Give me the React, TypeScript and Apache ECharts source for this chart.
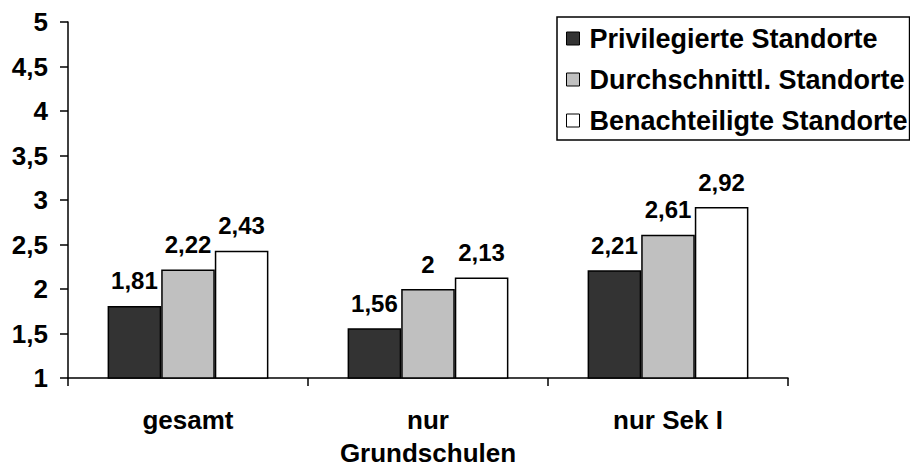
import React, { useEffect, useRef } from "react";
import * as echarts from "echarts";

const categories = ["gesamt", "nur\nGrundschulen", "nur Sek I"];
const seriesNames = ["Privilegierte Standorte", "Durchschnittl. Standorte", "Benachteiligte Standorte"];
const privilegiert = [1.81, 1.56, 2.21];
const durchschnitt = [2.22, 2.0, 2.61];
const benachteiligt = [2.43, 2.13, 2.92];
const seriesColors = ["#333333", "#c0c0c0", "#ffffff"];
const yMin = 1;
const yMax = 5;
const yInterval = 0.5;

const FONT = "Liberation Sans, Arial, sans-serif";
const fmt = (v: number) => String(v).replace(".", ",");

export default function App() {
  const ref = useRef<HTMLDivElement>(null);
  useEffect(() => {
    if (!ref.current) return;
    const chart = echarts.init(ref.current, undefined, { renderer: "svg" });
    const values = [privilegiert, durchschnitt, benachteiligt];
    chart.setOption({
      animation: false,
      backgroundColor: "#ffffff",
      grid: { left: 68, right: 122, top: 22, bottom: 90, containLabel: false },
      legend: {
        orient: "vertical",
        left: 557,
        top: 17,
        data: seriesNames,
        icon: "rect",
        itemWidth: 13,
        itemHeight: 13,
        itemGap: 14,
        padding: [8, 2, 6, 9],
        borderColor: "#000000",
        borderWidth: 1.5,
        backgroundColor: "#ffffff",
        textStyle: {
          fontFamily: FONT,
          fontWeight: "bold",
          fontSize: 27,
          color: "#000",
          lineHeight: 26,
          padding: [0, 0, 0, 5],
        },
        itemStyle: { borderColor: "#000", borderWidth: 1 },
      },
      xAxis: {
        type: "category",
        data: categories,
        axisLine: { lineStyle: { color: "#000", width: 1.5 } },
        axisTick: { show: true, length: 8, lineStyle: { color: "#000", width: 1.5 } },
        axisLabel: {
          margin: 25,
          fontFamily: FONT,
          fontWeight: "bold",
          fontSize: 26,
          color: "#000",
          lineHeight: 33,
          interval: 0,
        },
      },
      yAxis: {
        type: "value",
        min: yMin,
        max: yMax,
        interval: yInterval,
        splitLine: { show: false },
        axisLine: { show: true, lineStyle: { color: "#000", width: 1.5 } },
        axisTick: { show: true, length: 8, lineStyle: { color: "#000", width: 1.5 } },
        axisLabel: {
          margin: 20,
          fontFamily: FONT,
          fontWeight: "bold",
          fontSize: 26,
          color: "#000",
          formatter: (v: number) => fmt(v),
        },
      },
      series: seriesNames.map((name, i) => ({
        name,
        type: "bar",
        data: values[i],
        barGap: "0%",
        barCategoryGap: "33%",
        itemStyle: { color: seriesColors[i], borderColor: "#000", borderWidth: 1.5 },
        label: {
          show: true,
          position: "top",
          distance: 13,
          fontFamily: FONT,
          fontWeight: "bold",
          fontSize: 24,
          color: "#000",
          formatter: (p: any) => fmt(p.value),
        },
      })),
    });
    return () => chart.dispose();
  }, []);
  return (
    <div
      ref={ref}
      style={{ position: "fixed", left: 0, top: 0, width: 910, height: 469, background: "#fff" }}
    />
  );
}
